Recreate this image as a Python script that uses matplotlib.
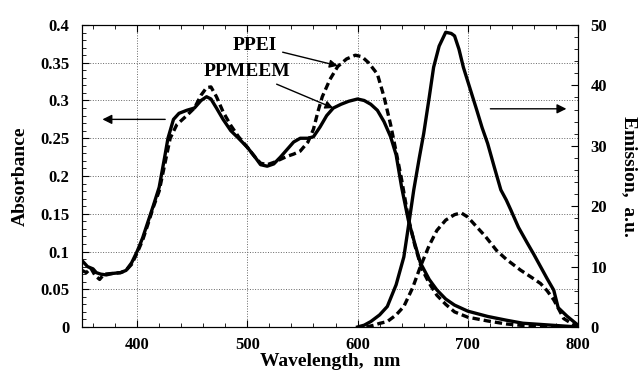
import numpy as np
import matplotlib.pyplot as plt
from matplotlib.ticker import MultipleLocator

plt.rcParams['font.family'] = ['Liberation Serif', 'DejaVu Serif']
plt.rcParams['font.weight'] = 'bold'

# absorbance, PPMEEM (solid)
wl_abs_m = [350, 355, 360, 363, 367, 372, 378, 385, 390, 395, 400, 405, 410, 415, 420,
            425, 428, 433, 438, 445, 452, 458, 463, 467, 472, 478, 485, 492, 500, 507,
            512, 518, 524, 530, 536, 542, 548, 555, 560, 566, 572, 578, 585, 592, 600,
            606, 612, 618, 624, 630, 635, 640, 646, 652, 657, 665, 672, 680, 688, 700,
            718, 735, 750, 770, 790, 800]
abs_m = [0.088, 0.080, 0.077, 0.072, 0.070, 0.069, 0.071, 0.072, 0.075, 0.085, 0.100,
         0.118, 0.140, 0.162, 0.185, 0.225, 0.250, 0.275, 0.283, 0.287, 0.290, 0.300,
         0.305, 0.302, 0.290, 0.275, 0.260, 0.250, 0.238, 0.225, 0.215, 0.213, 0.216,
         0.225, 0.235, 0.245, 0.250, 0.250, 0.252, 0.265, 0.280, 0.290, 0.295, 0.299,
         0.302, 0.300, 0.295, 0.287, 0.272, 0.252, 0.228, 0.185, 0.142, 0.110, 0.085,
         0.063, 0.049, 0.037, 0.029, 0.021, 0.014, 0.009, 0.005, 0.003, 0.001, 0.0]

# absorbance, PPEI (dashed)
wl_abs_e = [350, 354, 358, 362, 366, 370, 378, 385, 390, 395, 400, 405, 410, 415, 420,
            425, 430, 436, 445, 452, 458, 463, 467, 472, 478, 485, 492, 500, 507, 512,
            518, 524, 530, 536, 542, 548, 555, 560, 564, 568, 575, 582, 590, 598, 604,
            610, 618, 624, 630, 635, 640, 646, 652, 658, 665, 672, 680, 688, 700, 718,
            735, 750, 770, 800]
abs_e = [0.075, 0.072, 0.078, 0.068, 0.063, 0.070, 0.071, 0.072, 0.075, 0.083, 0.098,
         0.115, 0.137, 0.160, 0.180, 0.215, 0.250, 0.268, 0.280, 0.290, 0.307, 0.317,
         0.318, 0.305, 0.285, 0.267, 0.252, 0.238, 0.225, 0.217, 0.215, 0.218, 0.222,
         0.226, 0.229, 0.233, 0.245, 0.262, 0.285, 0.305, 0.328, 0.345, 0.355, 0.360,
         0.358, 0.350, 0.335, 0.305, 0.268, 0.232, 0.195, 0.145, 0.108, 0.078, 0.058,
         0.042, 0.030, 0.020, 0.013, 0.008, 0.004, 0.002, 0.0, 0.0]

# emission, PPMEEM (solid)
wl_em_m = [600, 606, 612, 620, 627, 635, 642, 647, 651, 656, 660, 665, 669, 674, 680,
           685, 688, 692, 696, 702, 708, 713, 718, 724, 730, 735, 739, 746, 754, 760,
           766, 772, 778, 782, 790, 800]
em_m = [0, 0.3, 0.9, 2.0, 3.4, 7.0, 11.6, 17.7, 22.7, 28, 32, 38, 43, 46.5, 48.8,
        48.6, 48.2, 46, 43, 39.5, 36, 33, 30.4, 26.5, 22.7, 21, 19.4, 16.5, 13.9, 12,
        10, 8, 6.1, 3.2, 1.8, 0.3]

# emission, PPEI (dashed)
wl_em_e = [608, 615, 620, 627, 635, 642, 650, 657, 665, 672, 680, 688, 694, 700, 708,
           716, 726, 735, 748, 758, 766, 772, 778, 783, 787, 795, 800]
em_e = [0, 0.3, 0.6, 0.9, 2.0, 3.4, 6.5, 10, 13.5, 16, 17.7, 18.6, 18.9, 18.2, 16.6,
        15, 12.7, 11.2, 9.4, 8.2, 7.2, 6.0, 4.5, 2.8, 1.4, 0.5, 0.3]

ytl = ['0', '0.05', '0.1', '0.15', '0.2', '0.25', '0.3', '0.35', '0.4']

dash = (0, (2.2, 1.2))

fig = plt.figure(figsize=(6.42, 3.71), dpi=100)
ax = fig.add_axes([82 / 642, 44 / 371, 496 / 642, 302 / 371])
ax2 = ax.twinx()

ax.plot(wl_abs_m, abs_m, color='black', lw=2.4)
ax.plot(wl_abs_e, abs_e, color='black', lw=2.4, linestyle=dash)
ax2.plot(wl_em_m, em_m, color='black', lw=2.4)
ax2.plot(wl_em_e, em_e, color='black', lw=2.4, linestyle=dash)

ax.set_xlim(350, 800)
ax.set_ylim(0, 0.4)
ax2.set_ylim(0, 50)

ax.xaxis.set_major_locator(MultipleLocator(100))
ax.xaxis.set_minor_locator(MultipleLocator(20))
ax.set_yticks(np.arange(0, 0.41, 0.05))
ax.set_yticklabels(ytl)
ax.yaxis.set_minor_locator(MultipleLocator(0.01))
ax2.yaxis.set_major_locator(MultipleLocator(10))
ax2.yaxis.set_minor_locator(MultipleLocator(2))

ax.grid(True, which='major', linestyle=':', color='#666666', lw=0.7)
ax.tick_params(which='both', direction='in', top=True, right=False, labelsize=12)
ax.tick_params(axis='y', which='major', length=5, pad=9)
ax.tick_params(axis='x', which='major', length=5, pad=7)
ax.tick_params(which='minor', length=3)
ax2.tick_params(which='both', direction='in', labelsize=12)
ax2.tick_params(which='major', length=5, pad=9)
ax2.tick_params(which='minor', length=3)
for a in (ax, ax2):
    for lab in a.get_xticklabels() + a.get_yticklabels():
        lab.set_fontweight('bold')

ax.set_xlabel('Wavelength,  nm', fontsize=14, fontweight='bold', labelpad=0)
ax.set_ylabel('Absorbance', fontsize=14, fontweight='bold', labelpad=8)
ax2.set_ylabel('Emission,  a.u.', fontsize=14, fontweight='bold', rotation=270, labelpad=22)

# labels with arrows
ax.annotate('PPEI', xy=(582, 0.346), xytext=(507, 0.373), ha='center', va='center',
            fontsize=14, fontweight='bold',
            arrowprops=dict(arrowstyle='-|>', color='black', lw=1.0,
                            shrinkA=2, shrinkB=0, mutation_scale=12))
ax.annotate('PPMEEM', xy=(578, 0.290), xytext=(500, 0.338), ha='center', va='center',
            fontsize=14, fontweight='bold',
            arrowprops=dict(arrowstyle='-|>', color='black', lw=1.0,
                            shrinkA=2, shrinkB=0, mutation_scale=12))
ax.annotate('', xy=(366, 0.275), xytext=(428, 0.275),
            arrowprops=dict(arrowstyle='-|>', color='black', lw=1.0, mutation_scale=14))
ax.annotate('', xy=(792, 0.289), xytext=(718, 0.289),
            arrowprops=dict(arrowstyle='-|>', color='black', lw=1.0, mutation_scale=14))

fig.savefig('out.png', dpi=100)
